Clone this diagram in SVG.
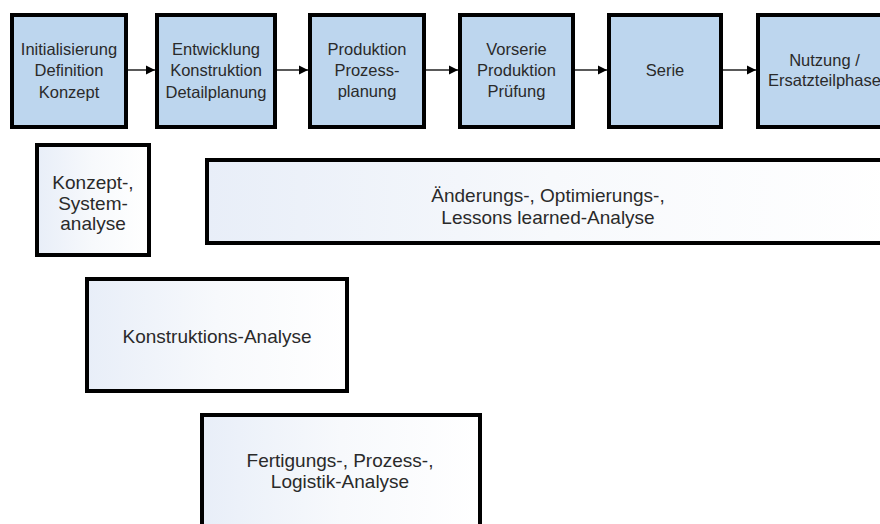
<svg xmlns="http://www.w3.org/2000/svg" width="880" height="524" viewBox="0 0 880 524">
<defs>
<linearGradient id="lg" x1="0" y1="0" x2="1" y2="0">
<stop offset="0" stop-color="#e8eef8"/>
<stop offset="0.5" stop-color="#f7f9fc"/>
<stop offset="1" stop-color="#ffffff"/>
</linearGradient>
<marker id="ah" markerWidth="10" markerHeight="10" refX="9" refY="5" orient="auto" markerUnits="userSpaceOnUse">
<path d="M0,0.5 L9,5 L0,9.5 Z" fill="#000"/>
</marker>
<style>
.phase{fill:#bdd6ee;stroke:#000;stroke-width:4}
.ana{fill:url(#lg);stroke:#000;stroke-width:4}
.t{font-family:"Liberation Sans",Arial,sans-serif;font-size:16.5px;fill:#2a2a2a;text-anchor:middle}
.t2{font-family:"Liberation Sans",Arial,sans-serif;font-size:19px;fill:#2a2a2a;text-anchor:middle}
.c{stroke:#222;stroke-width:1.5;fill:none;marker-end:url(#ah)}
</style>
</defs>
<rect width="880" height="524" fill="#fff"/>
<g id="p1"><rect class="phase" x="12" y="15" width="114" height="112"/>
<text class="t" x="69" y="54.5">Initialisierung</text><text class="t" x="69" y="76">Definition</text><text class="t" x="69" y="97.5">Konzept</text></g>
<g id="p2"><rect class="phase" x="157" y="15" width="118" height="112"/>
<text class="t" x="216" y="54.5">Entwicklung</text><text class="t" x="216" y="76">Konstruktion</text><text class="t" x="216" y="97.5">Detailplanung</text></g>
<g id="p3"><rect class="phase" x="310" y="15" width="114" height="112"/>
<text class="t" x="367" y="55">Produktion</text><text class="t" x="367" y="76">Prozess-</text><text class="t" x="367" y="97">planung</text></g>
<g id="p4"><rect class="phase" x="460" y="15" width="113" height="112"/>
<text class="t" x="516.5" y="55">Vorserie</text><text class="t" x="516.5" y="76">Produktion</text><text class="t" x="516.5" y="97">Prüfung</text></g>
<g id="p5"><rect class="phase" x="609" y="15" width="112" height="112"/>
<text class="t" x="665" y="76">Serie</text></g>
<g id="p6"><rect class="phase" x="758" y="15" width="140" height="112"/>
<text class="t" x="824.5" y="66">Nutzung /</text><text class="t" x="824.5" y="86">Ersatzteilphase</text></g>
<g id="connectors">
<line class="c" x1="128" y1="70" x2="155" y2="70"/>
<line class="c" x1="277" y1="70" x2="308" y2="70"/>
<line class="c" x1="426" y1="70" x2="458" y2="70"/>
<line class="c" x1="575" y1="70" x2="607" y2="70"/>
<line class="c" x1="723" y1="70" x2="756" y2="70"/>
</g>
<g id="a1"><rect class="ana" x="37" y="145" width="112" height="110"/>
<text class="t2" x="93" y="188.5">Konzept-,</text><text class="t2" x="93" y="209.5">System-</text><text class="t2" x="93" y="230">analyse</text></g>
<g id="a2"><rect class="ana" x="207" y="160" width="690" height="83"/>
<text class="t2" x="548" y="201.5">Änderungs-, Optimierungs-,</text><text class="t2" x="548" y="223.5">Lessons learned-Analyse</text></g>
<g id="a3"><rect class="ana" x="87" y="279" width="260" height="112"/>
<text class="t2" x="217" y="343">Konstruktions-Analyse</text></g>
<g id="a4"><rect class="ana" x="202" y="415" width="278" height="130"/>
<text class="t2" x="340" y="466.5">Fertigungs-, Prozess-,</text><text class="t2" x="340" y="487.5">Logistik-Analyse</text></g>
</svg>
